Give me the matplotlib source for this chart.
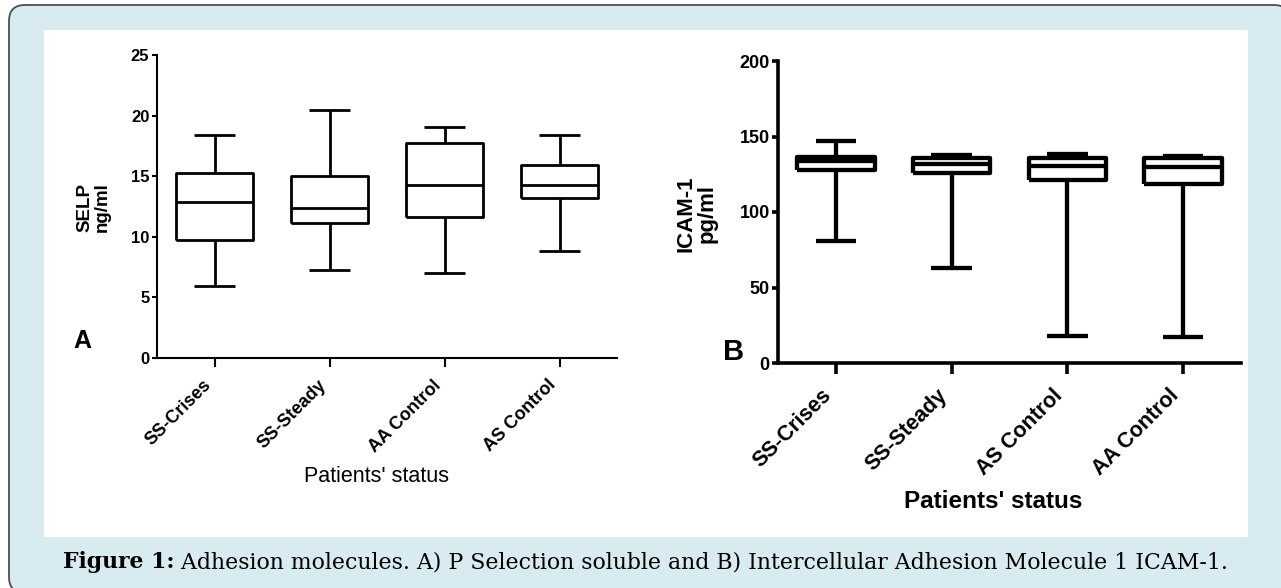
import matplotlib
matplotlib.use("Agg")
import matplotlib.pyplot as plt
from matplotlib.patches import FancyBboxPatch, Rectangle
import matplotlib.transforms as mtransforms

W, H = 1281, 588

# ---- Panel A: SELP (ng/ml)
groups_a = ["SS-Crises", "SS-Steady", "AA Control", "AS Control"]
a_low = [5.9, 7.3, 7.0, 8.8]
a_q1 = [9.7, 11.1, 11.6, 13.2]
a_med = [12.9, 12.4, 14.3, 14.3]
a_q3 = [15.3, 15.0, 17.7, 15.9]
a_high = [18.4, 20.5, 19.1, 18.4]
a_yticks = [0, 5, 10, 15, 20, 25]

# ---- Panel B: ICAM-1 (pg/ml)
groups_b = ["SS-Crises", "SS-Steady", "AS Control", "AA Control"]
b_low = [81, 63, 18, 17]
b_q1 = [127.6, 125.8, 121.5, 118.5]
b_med = [134, 132, 130.5, 129.5]
b_q3 = [136.3, 135.5, 135.8, 135.5]
b_high = [146.7, 137.5, 138.5, 137.0]
b_yticks = [0, 50, 100, 150, 200]

SANS = "Liberation Sans"
plt.rcParams["font.family"] = [SANS, "DejaVu Sans"]

fig = plt.figure(figsize=(W / 100, H / 100), dpi=100)
fig.patch.set_facecolor("white")

ident = mtransforms.IdentityTransform()
frame = FancyBboxPatch((9, H - 593), 1281, 588,
                       boxstyle="round,pad=0,rounding_size=16",
                       facecolor="#d7ebf1", edgecolor="#4d4d4d", lw=1.3,
                       transform=ident, zorder=0)
fig.patches.append(frame)
panel = Rectangle((44, H - 537), 1204, 507, facecolor="white",
                  edgecolor="none", transform=ident, zorder=1)
fig.patches.append(panel)


def fx(x):
    return x / W


def fy(y):
    return 1 - y / H


def stats(low, q1, med, q3, high):
    return [dict(whislo=l, q1=a, med=m, q3=b, whishi=h, fliers=[])
            for l, a, m, b, h in zip(low, q1, med, q3, high)]


def draw(ax, st, labels, yticks, lw, axlw, ylab_size, xlab_size,
         xtick_len, ytick_len, xoff, xpad):
    props = dict(color="black", lw=lw, solid_capstyle="butt")
    ax.bxp(st, positions=range(len(st)), widths=0.67, capwidths=0.35,
           showfliers=False, boxprops=props, whiskerprops=props,
           capprops=props, medianprops=props)
    ax.set_xlim(-0.5, 3.5)
    ax.set_ylim(yticks[0], yticks[-1])
    ax.set_yticks(yticks)
    ax.set_yticklabels([str(t) for t in yticks], fontsize=ylab_size,
                       fontweight="bold")
    ax.set_xticks(range(len(labels)))
    ax.set_xticklabels(labels, rotation=45, ha="right",
                       fontsize=xlab_size, fontweight="bold")
    off = mtransforms.ScaledTranslation(xoff / 100, 0, fig.dpi_scale_trans)
    for t in ax.get_xticklabels():
        t.set_transform(t.get_transform() + off)
    for s in ("top", "right"):
        ax.spines[s].set_visible(False)
    for s in ("left", "bottom"):
        ax.spines[s].set_linewidth(axlw)
    ax.tick_params(axis="x", length=xtick_len, width=axlw, pad=xpad)
    ax.tick_params(axis="y", length=ytick_len, width=axlw, pad=2)
    ax.set_facecolor("none")
    ax.set_zorder(3)


ax_a = fig.add_axes([fx(157), fy(358), 460 / W, 303 / H])
draw(ax_a, stats(a_low, a_q1, a_med, a_q3, a_high), groups_a, a_yticks,
     lw=2.0, axlw=1.5, ylab_size=12, xlab_size=13,
     xtick_len=6.5, ytick_len=3.5, xoff=7, xpad=7)

ax_b = fig.add_axes([fx(778), fy(363), 463 / W, 302 / H])
draw(ax_b, stats(b_low, b_q1, b_med, b_q3, b_high), groups_b, b_yticks,
     lw=3.1, axlw=2.6, ylab_size=13, xlab_size=15.5,
     xtick_len=8, ytick_len=4, xoff=7, xpad=8)

# axis titles and panel letters
fig.text(fx(93.5), fy(207.5), "SELP\nng/ml", rotation=90, ha="center",
         va="center", ma="center", fontsize=13.5, fontweight="bold",
         linespacing=1.0, zorder=5)
fig.text(fx(696.5), fy(213.5), "ICAM-1\npg/ml", rotation=90, ha="center",
         va="center", ma="center", fontsize=16, fontweight="bold",
         linespacing=1.0, zorder=5)
fig.text(fx(82.5), fy(341), "A", ha="center", va="center", fontsize=18,
         fontweight="bold", zorder=5)
fig.text(fx(734), fy(352), "B", ha="center", va="center", fontsize=21,
         fontweight="bold", zorder=5)
fig.text(fx(376), fy(476), "Patients' status", ha="center", va="center",
         fontsize=15.5, zorder=5)
fig.text(fx(993), fy(501), "Patients' status", ha="center", va="center",
         fontsize=17.5, fontweight="bold", zorder=5)

# caption, fitted to its width in the reference
cap_bold = "Figure 1:"
cap_rest = " Adhesion molecules. A) P Selection soluble and B) Intercellular Adhesion Molecule 1 ICAM-1."
SERIF = "DejaVu Serif"
renderer = fig.canvas.get_renderer()
base = 15
t1 = fig.text(0, 0, cap_bold, fontsize=base, fontweight="bold", family=SERIF)
t2 = fig.text(0, 0, cap_rest, fontsize=base, family=SERIF)
w_total = (t1.get_window_extent(renderer).width +
           t2.get_window_extent(renderer).width)
size = base * 1165 / w_total
t1.set_fontsize(size)
t2.set_fontsize(size)
w1 = t1.get_window_extent(renderer).width
t1.set_position((fx(63), fy(568)))
t1.set_va("baseline")
t2.set_position((fx(63) + w1 / W, fy(568)))
t2.set_va("baseline")
t1.set_zorder(5)
t2.set_zorder(5)

fig.savefig("out.png", dpi=100, facecolor="white")
